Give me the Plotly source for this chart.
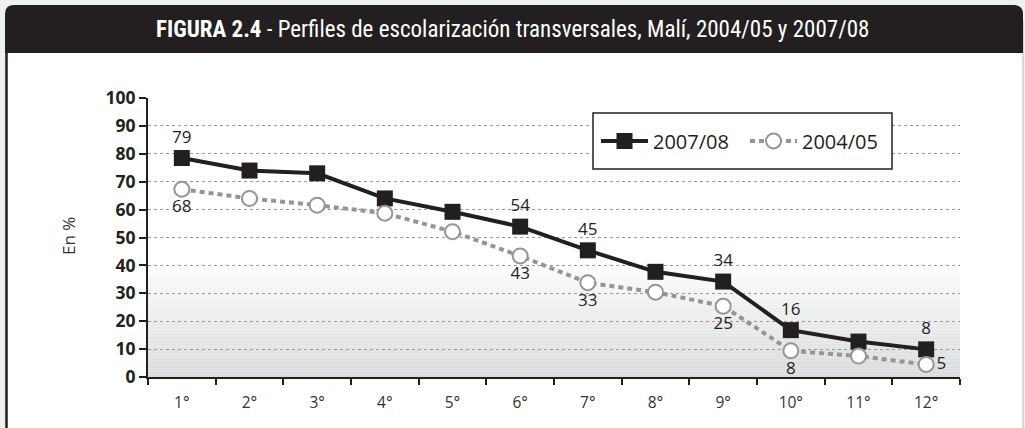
import plotly.graph_objects as go

# ---------------- data ----------------
categories = ["1°", "2°", "3°", "4°", "5°", "6°", "7°", "8°", "9°", "10°", "11°", "12°"]
values_0708 = [78.5, 74.0, 73.0, 64.0, 59.2, 53.9, 45.4, 37.7, 34.2, 16.8, 12.7, 9.9]
values_0405 = [67.3, 64.0, 61.6, 58.7, 52.1, 43.4, 33.8, 30.4, 25.4, 9.4, 7.5, 4.5]
labels_0708 = ["79", "", "", "", "", "54", "45", "", "34", "16", "", "8"]
labels_0405 = ["68", "", "", "", "", "43", "33", "", "25", "8", "", "5"]
y_ticks = [0, 10, 20, 30, 40, 50, 60, 70, 80, 90, 100]
title_bold = "FIGURA 2.4"
title_rest = " - Perfiles de escolarización transversales, Malí, 2004/05 y 2007/08"

# ---------------- layout helpers (pixel -> paper) ----------------
W_PX, H_PX = 1025, 428
L, R, T, B = 148, 960, 98, 377
PW, PH = R - L, B - T


def px(x):
    return (x - L) / PW


def py(y):
    return (B - y) / PH


DARK = "#231f20"
GRAY = "#959595"
FONT = "Open Sans, DejaVu Sans, sans-serif"

fig = go.Figure()

fig.add_trace(go.Scatter(
    x=categories, y=values_0708, name="2007/08", mode="lines+markers+text",
    line=dict(color=DARK, width=4),
    marker=dict(symbol="square", size=16, color=DARK),
    text=labels_0708, textposition="top center",
    textfont=dict(family=FONT, size=17, color=DARK),
    cliponaxis=False,
))

pos_0405 = ["bottom center"] * (len(categories) - 1) + ["middle right"]
fig.add_trace(go.Scatter(
    x=categories, y=values_0405, name="2004/05", mode="lines+markers+text",
    line=dict(color=GRAY, width=4, dash="5px,4px"),
    marker=dict(symbol="circle", size=15, color="white", line=dict(color=GRAY, width=2)),
    text=labels_0405, textposition=pos_0405,
    textfont=dict(family=FONT, size=17, color=DARK),
    cliponaxis=False,
))

shapes = []
# white frame
shapes.append(dict(type="rect", xref="paper", yref="paper", layer="below",
                   x0=px(6), x1=px(1023), y0=py(H_PX + 10), y1=py(50),
                   fillcolor="white", line=dict(width=0)))
# left border
shapes.append(dict(type="line", xref="paper", yref="paper", layer="below",
                   x0=px(6.5), x1=px(6.5), y0=py(H_PX + 10), y1=py(20),
                   line=dict(color=DARK, width=2.5)))
# right border
shapes.append(dict(type="line", xref="paper", yref="paper", layer="below",
                   x0=px(1023), x1=px(1023), y0=py(H_PX + 10), y1=py(20),
                   line=dict(color="#b8b8b8", width=1)))
# header bar with rounded top corners
r = 9
x0h, x1h, y0h, y1h = 5, 1023, 5, 53
path = (f"M {px(x0h)},{py(y1h)} L {px(x0h)},{py(y0h + r)} "
        f"Q {px(x0h)},{py(y0h)} {px(x0h + r)},{py(y0h)} "
        f"L {px(x1h - r)},{py(y0h)} "
        f"Q {px(x1h)},{py(y0h)} {px(x1h)},{py(y0h + r)} "
        f"L {px(x1h)},{py(y1h)} Z")
shapes.append(dict(type="path", xref="paper", yref="paper", layer="below",
                   path=path, fillcolor=DARK, line=dict(width=0)))

# gradient background in lower part of plot area (0 -> 40)
n_bands = 40
c_bot = (218, 219, 222)
c_top = (252, 252, 252)
for i in range(n_bands):
    t = (i + 0.5) / n_bands
    c = tuple(int(round(c_bot[k] + (c_top[k] - c_bot[k]) * t)) for k in range(3))
    shapes.append(dict(type="rect", xref="paper", yref="y", layer="below",
                       x0=0, x1=1, y0=40 * i / n_bands, y1=40 * (i + 1) / n_bands,
                       fillcolor=f"rgb{c}", line=dict(width=0)))

# legend box
shapes.append(dict(type="rect", xref="paper", yref="paper", layer="above",
                   x0=px(593), x1=px(892), y0=py(169), y1=py(113),
                   fillcolor="white", line=dict(color=DARK, width=1.5)))

annotations = [
    dict(xref="paper", yref="paper", x=px(512), y=py(29.5), xanchor="center", yanchor="middle",
         showarrow=False,
         text=f"<b>{title_bold}</b>{title_rest}",
         font=dict(family="Liberation Sans Narrow, Roboto Condensed, Arial Narrow, sans-serif",
                   size=23, color="white")),
    dict(xref="paper", yref="paper", x=px(68), y=py(236), xanchor="center", yanchor="middle",
         showarrow=False, textangle=-90, text="En %",
         font=dict(family=FONT, size=17, color="#333333")),
]

fig.update_layout(
    width=W_PX, height=H_PX,
    margin=dict(l=L, r=W_PX - R, t=T, b=H_PX - B, pad=0),
    paper_bgcolor="#eff0f2",
    plot_bgcolor="white",
    shapes=shapes,
    annotations=annotations,
    showlegend=True,
    legend=dict(
        orientation="h", x=px(596), y=py(141), xanchor="left", yanchor="middle",
        bgcolor="rgba(0,0,0,0)", borderwidth=0,
        font=dict(family=FONT, size=20, color=DARK),
        itemwidth=47, entrywidth=87, traceorder="normal",
    ),
    xaxis=dict(
        type="category", range=[-0.5, 11.5], tickson="boundaries",
        ticks="outside", ticklen=6, tickwidth=1.5, tickcolor=DARK,
        showline=True, linecolor=DARK, linewidth=2, showgrid=False,
        tickfont=dict(family=FONT, size=15.5, color="#333333"),
        ticklabelstandoff=10, fixedrange=True,
    ),
    yaxis=dict(
        range=[0, 100], tickvals=y_ticks, ticks="outside", ticklen=7, tickwidth=1.5,
        tickcolor=DARK, showline=True, linecolor=DARK, linewidth=2,
        showgrid=True, gridcolor="#9a9a9a", griddash="dot", gridwidth=1,
        zeroline=False,
        tickfont=dict(family=FONT, size=17.5, color=DARK, weight="bold"),
        fixedrange=True,
    ),
)

fig.write_html("out.html", config={"displayModeBar": False},
               post_script="document.body.style.margin='0px';")
